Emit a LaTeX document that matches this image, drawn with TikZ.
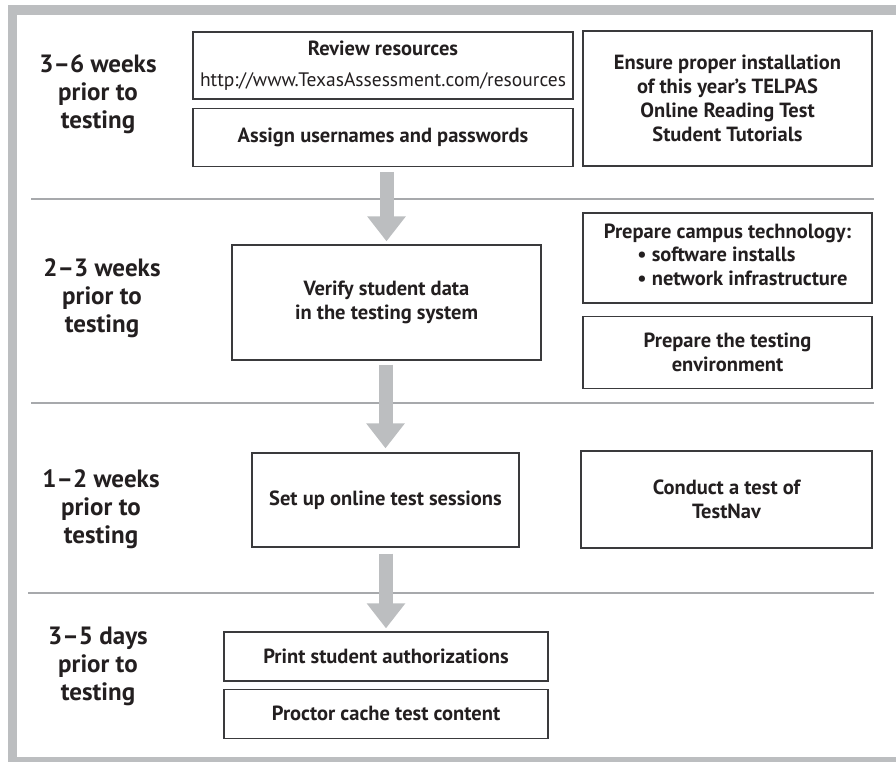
\documentclass[tikz,border=0pt]{standalone}
\usepackage{fontspec}
\setmainfont{PT Sans}
\usetikzlibrary{arrows.meta,positioning}
\definecolor{ink}{HTML}{231F20}
\definecolor{framegray}{HTML}{BCBEC0}
\definecolor{rulegray}{HTML}{A7A9AC}
\definecolor{boxline}{HTML}{3A3A3C}

\begin{document}
\begin{tikzpicture}[x=1pt,y=-1pt,
  task/.style={draw=boxline,line width=1.3pt,fill=white,align=center,inner sep=3pt,text=ink,font=\fontsize{20.5}{24}\selectfont\bfseries},
  when/.style={align=center,text=ink,font=\fontsize{25}{28}\selectfont\bfseries},
  flow/.style={framegray,line width=14pt,-{Triangle[width=37pt,length=25pt]}},
  divider/.style={rulegray,line width=1.5pt}]
\useasboundingbox (0,0) rectangle (896,761);
\clip (0,0) rectangle (896,761);
% outer frame and phase rules
\draw[framegray,line width=9.5pt] (12.5,10) rectangle (910,762);
\draw[divider] (31,199) -- (874,199);
\draw[divider] (31,403) -- (874,403);
\draw[divider] (28,593) -- (874,593);
% phase labels
\node[when] (wk36) at (98,94) {3--6 weeks\\prior to\\testing};
\node[when] (wk23) at (102,298) {2--3 weeks\\prior to\\testing};
\node[when] (wk12) at (101,509) {1--2 weeks\\prior to\\testing};
\node[when] (dy35) at (98,666) {3--5 days\\prior to\\testing};
% tasks
\node[task,minimum width=380pt,minimum height=67pt] (review) at (383,65.5) {Review resources\\[7pt]\mdseries\fontsize{19.5}{23}\selectfont http://www.TexasAssessment.com/resources};
\node[task,minimum width=380pt,minimum height=58pt,below=8pt of review] (assign) {Assign usernames and passwords};
\node[task,minimum width=289pt,minimum height=135pt] (ensure) at (727.5,98.5) {Ensure proper installation\\of this year’s TELPAS\\Online Reading Test\\Student Tutorials};
\node[task,minimum width=289pt,minimum height=90pt] (campus) at (727.5,258) {Prepare campus technology:\\[1pt]\hspace*{30pt}\begin{tabular}{@{}l@{}}\textbullet\ software installs\\ \textbullet\ network infrastructure\end{tabular}};
\node[task,minimum width=289pt,minimum height=72pt,below=12pt of campus] (environ) {Prepare the testing\\environment};
\node[task,minimum width=309pt,minimum height=115pt] (verify) at (386.5,302.5) {Verify student data\\in the testing system};
\node[task,minimum width=267pt,minimum height=94pt] (setup) at (385.5,500) {Set up online test sessions};
\node[task,minimum width=291pt,minimum height=97pt] (conduct) at (726.5,499.5) {Conduct a test of\\TestNav};
\node[task,minimum width=324pt,minimum height=49pt] (print) at (386,656.5) {Print student authorizations};
\node[task,minimum width=324pt,minimum height=49pt,below=7pt of print] (proctor) {Proctor cache test content};
% flow arrows
\draw[flow,shorten <=5pt,shorten >=3pt] (verify.north |- assign.south) -- (verify.north);
\draw[flow,shorten <=4pt,shorten >=4pt] (setup.north |- verify.south) -- (setup.north);
\draw[flow,shorten <=6pt,shorten >=3pt] (print.north |- setup.south) -- (print.north);
\end{tikzpicture}
\end{document}
